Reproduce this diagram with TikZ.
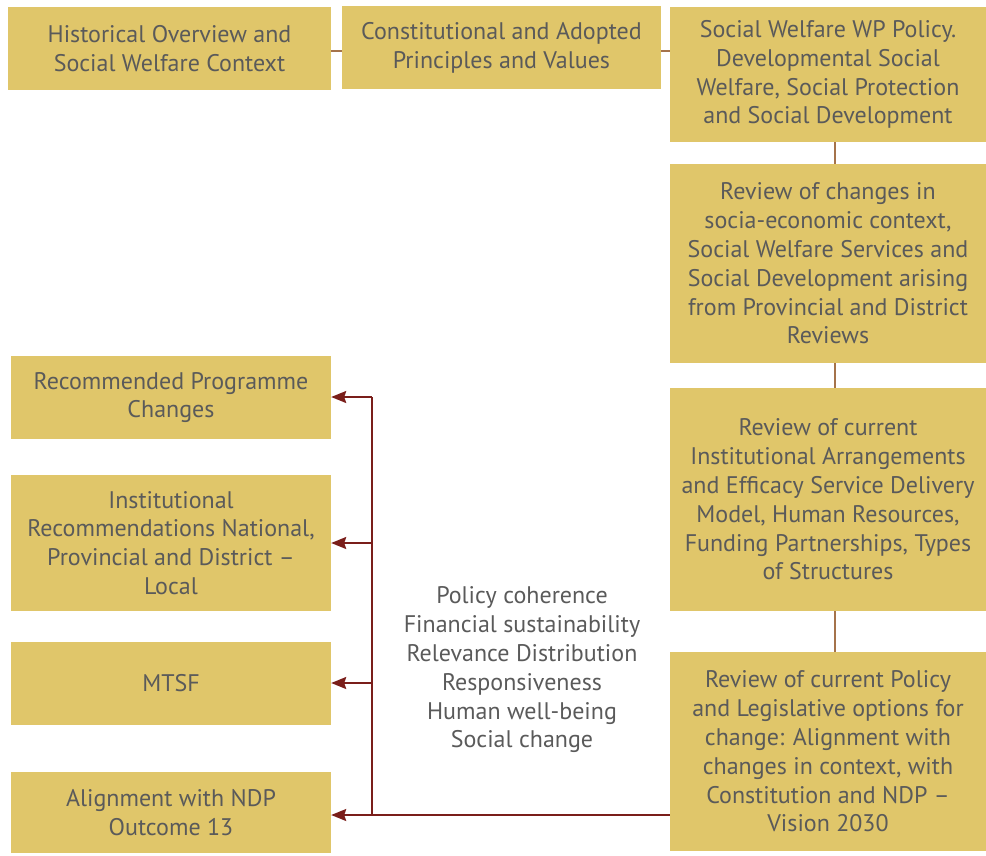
\documentclass[tikz,border=0pt]{standalone}
\usepackage{fontspec}
\setmainfont{PT Sans}
\usetikzlibrary{arrows.meta}
\definecolor{boxfill}{RGB}{224,198,106}
\definecolor{txt}{RGB}{90,90,90}
\definecolor{arrred}{RGB}{122,30,26}
\definecolor{linkbrown}{RGB}{165,115,75}
\tikzset{
  stagebox/.style={rectangle, fill=boxfill, draw=none, inner sep=0pt, align=center,
    text=txt, font=\fontsize{24}{28.8}\selectfont},
  link/.style={draw=linkbrown, line width=1.4pt},
  feed/.style={draw=arrred, line width=1.8pt},
  feedarrow/.style={feed, -{Stealth[length=15pt,width=12pt,inset=2pt]}},
}
\begin{document}
\begin{tikzpicture}[x=1pt,y=-1pt]
\useasboundingbox (0,0) rectangle (986,855);
\node[stagebox, minimum width=323pt, minimum height=83pt] (b1) at (169.5,48.5)
  {Historical Overview and\\Social Welfare Context};
\node[stagebox, minimum width=319pt, minimum height=83pt] (b2) at (501.5,47.5)
  {Constitutional and Adopted\\Principles and Values};
\node[stagebox, minimum width=316pt, minimum height=135pt] (b3) at (828,74.5)
  {Social Welfare WP Policy.\\Developmental Social\\Welfare, Social Protection\\and Social Development};
\node[stagebox, minimum width=316pt, minimum height=199pt] (b4) at (828,263.5)
  {Review of changes in\\socia-economic context,\\Social Welfare Services and\\Social Development arising\\from Provincial and District\\Reviews};
\node[stagebox, minimum width=316pt, minimum height=223pt] (b5) at (828,499.5)
  {Review of current\\Institutional Arrangements\\and Efficacy Service Delivery\\Model, Human Resources,\\Funding Partnerships, Types\\of Structures};
\node[stagebox, minimum width=316pt, minimum height=199pt] (b6) at (828,751.5)
  {Review of current Policy\\and Legislative options for\\change: Alignment with\\changes in context, with\\Constitution and NDP --\\Vision 2030};
\node[stagebox, minimum width=320pt, minimum height=83pt] (l1) at (171,397.5)
  {Recommended Programme\\Changes};
\node[stagebox, minimum width=320pt, minimum height=136pt] (l2) at (171,543)
  {Institutional\\Recommendations National,\\Provincial and District --\\Local};
\node[stagebox, minimum width=320pt, minimum height=83pt] (l3) at (171,683.5)
  {MTSF};
\node[stagebox, minimum width=320pt, minimum height=81pt] (l4) at (171,812.5)
  {Alignment with NDP\\Outcome 13};
\node[align=center, text=txt, font=\fontsize{24}{28.8}\selectfont, inner sep=0pt] (crit) at (522,670)
  {Policy coherence\\Financial sustainability\\Relevance Distribution\\Responsiveness\\Human well-being\\Social change};
% top links
\coordinate (ty) at (0,51);
\draw[link] (b1.east |- ty) -- (b2.west |- ty);
\draw[link] (b2.east |- ty) -- (b3.west |- ty);
% right column links
\coordinate (vx) at (835,0);
\draw[link] (b3.south -| vx) -- (b4.north -| vx);
\draw[link] (b4.south -| vx) -- (b5.north -| vx);
\draw[link] (b5.south -| vx) -- (b6.north -| vx);
% feedback trunk
\coordinate (jtop) at (372,397);
\coordinate (j2) at (372,543);
\coordinate (j3) at (372,683);
\coordinate (jbot) at (372,815);
\draw[feed] (jtop) -- (jbot);
\draw[feed] (b6.west |- jbot) -- (jbot);
\draw[feedarrow] (jtop) -- (l1.east |- jtop);
\draw[feedarrow] (j2) -- (l2.east |- j2);
\draw[feedarrow] (j3) -- (l3.east |- j3);
\draw[feedarrow] (jbot) -- (l4.east |- jbot);
\end{tikzpicture}
\end{document}
